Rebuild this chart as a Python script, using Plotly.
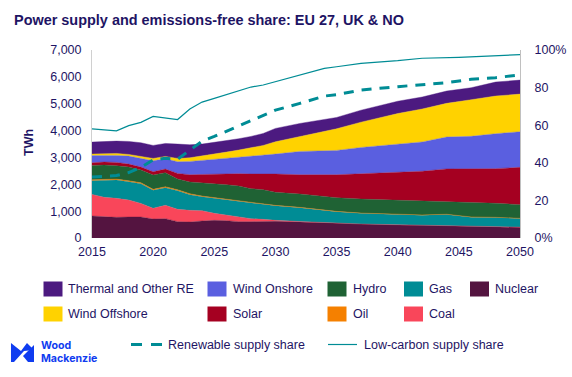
import plotly.graph_objects as go

years = [2015, 2016, 2017, 2018, 2019, 2020, 2021, 2022, 2023, 2024, 2025, 2026, 2027, 2028, 2029,
         2030, 2032, 2035, 2037, 2040, 2042, 2044, 2046, 2048, 2050]
nuclear = [818, 794, 769, 781, 781, 707, 719, 608, 595, 632, 657, 645, 608, 608, 620,
           620, 595, 546, 508, 484, 471, 459, 434, 422, 397]
coal = [806, 719, 707, 632, 508, 397, 496, 459, 434, 384, 260, 198, 174, 112, 74,
        37, 19, 12, 12, 10, 8, 8, 8, 8, 8]
gas = [508, 645, 682, 682, 732, 670, 657, 694, 583, 521, 558, 595, 583, 570, 558,
       546, 515, 422, 397, 384, 372, 409, 335, 335, 322]
oil = [37, 37, 37, 37, 37, 37, 37, 37, 37, 25, 25, 25, 25, 25, 25,
       12, 12, 12, 12, 10, 10, 8, 8, 6, 6]
hydro = [533, 521, 496, 508, 471, 533, 521, 397, 434, 496, 508, 521, 546, 521, 521,
         484, 496, 508, 521, 521, 496, 459, 533, 521, 508]
solar = [99, 112, 124, 112, 112, 124, 136, 211, 273, 310, 372, 422, 459, 546, 595,
         682, 719, 856, 942, 1042, 1128, 1228, 1252, 1290, 1389]
wind_onshore = [273, 260, 260, 298, 335, 409, 384, 434, 496, 521, 546, 570, 620, 657, 682,
                744, 868, 905, 980, 1042, 1091, 1190, 1215, 1302, 1327]
wind_offshore = [50, 62, 74, 62, 62, 87, 87, 124, 136, 161, 198, 223, 260, 310, 372,
                 459, 558, 806, 942, 1141, 1228, 1252, 1364, 1401, 1401]
thermal = [446, 446, 459, 484, 508, 484, 484, 533, 484, 446, 434, 434, 422, 434, 446,
           496, 484, 422, 446, 459, 446, 459, 446, 521, 521]

low_years = [2015, 2017, 2018, 2019, 2020, 2021, 2022, 2023, 2024, 2025, 2026, 2027, 2028, 2029,
             2030, 2032, 2034, 2035, 2037, 2040, 2042, 2045, 2048, 2050]
low_carbon = [58.0, 57.0, 59.8, 61.5, 64.7, 63.8, 63.0, 68.6, 72.3, 74.3, 76.2, 78.4, 80.3, 81.4,
              83.2, 86.7, 90.2, 91.1, 92.9, 94.3, 95.6, 96.1, 97.0, 97.5]
ren_years = [2015, 2017, 2018, 2019, 2020, 2021, 2022, 2023, 2024, 2025, 2027, 2028, 2029,
             2030, 2032, 2034, 2035, 2037, 2040, 2042, 2044, 2046, 2048, 2050]
renewable = [32.4, 33.2, 34.8, 37.6, 41.5, 42.4, 41.9, 46.8, 51.5, 54.0, 59.6, 62.8, 65.4,
             68.0, 71.6, 75.5, 76.2, 78.7, 80.5, 81.4, 82.6, 84.4, 85.3, 86.7]

stack = [("Nuclear", nuclear, "#541440"), ("Coal", coal, "#F9465A"), ("Gas", gas, "#008C95"),
         ("Oil", oil, "#F58000"), ("Hydro", hydro, "#1F6234"), ("Solar", solar, "#A50021"),
         ("Wind Onshore", wind_onshore, "#5A5FE0"), ("Wind Offshore", wind_offshore, "#FFD200"),
         ("Thermal and Other RE", thermal, "#4C1A80")]
legend_rows = [["Thermal and Other RE", "Wind Onshore", "Hydro", "Gas", "Nuclear"],
               ["Wind Offshore", "Solar", "Oil", "Coal"]]
legend_swatch_x = [43.5, 207.5, 327.5, 404, 470]
legend_text_x = [67, 231.5, 351.5, 427.5, 494]
legend_row_y = [289, 314]
colors = {n: c for n, _, c in stack}
NAVY = "#1E1464"
TEAL = "#008C95"
BLUE = "#0F3CF0"
W, H = 572, 377
L, R, T, B = 92, 520, 50, 238
FONT = "Liberation Sans"

def px(x): return (x - L) / (R - L)
def py(y): return (B - y) / (B - T)

fig = go.Figure()
for name, vals, col in stack:
    fig.add_trace(go.Scatter(x=years, y=vals, name=name, stackgroup="one", mode="lines",
                             line=dict(width=0.4, color=col), fillcolor=col, showlegend=False))
fig.add_trace(go.Scatter(x=ren_years, y=renewable, name="Renewable supply share", yaxis="y2", mode="lines",
                         line=dict(color=TEAL, width=3, dash="10px,8px"), showlegend=False))
fig.add_trace(go.Scatter(x=low_years, y=low_carbon, name="Low-carbon supply share", yaxis="y2", mode="lines",
                         line=dict(color=TEAL, width=1.2), showlegend=False))

shapes, ann = [], []
def text(x, y, s, size=12.5, color=NAVY, family=FONT, **kw):
    ann.append(dict(xref="paper", yref="paper", x=px(x), y=py(y), text=s, showarrow=False, xanchor=kw.pop("xanchor", "left"),
                    yanchor="middle", borderpad=0, font=dict(family=family, size=size, color=color), **kw))

for r, row in enumerate(legend_rows):
    for c, name in enumerate(row):
        yc = legend_row_y[r]
        shapes.append(dict(type="rect", xref="paper", yref="paper", x0=px(legend_swatch_x[c]), x1=px(legend_swatch_x[c] + 19),
                           y0=py(yc - 7.5), y1=py(yc + 7.5), fillcolor=colors[name], line=dict(width=0)))
        text(legend_text_x[c], yc, name)

ly = 344.5
for a, b in [(131, 142), (151, 162)]:
    shapes.append(dict(type="line", xref="paper", yref="paper", x0=px(a), x1=px(b), y0=py(ly), y1=py(ly), line=dict(color=TEAL, width=3)))
shapes.append(dict(type="line", xref="paper", yref="paper", x0=px(328), x1=px(357), y0=py(ly), y1=py(ly), line=dict(color=TEAL, width=1.2)))
text(167, ly, "Renewable supply share")
text(362.5, ly, "Low-carbon supply share")

text(13, 19.5, "<b>Power supply and emissions-free share: EU 27, UK &amp; NO</b>", size=14.45)
text(29, 143, "<b>TWh</b>", size=12.5, textangle=-90, xanchor="center")
text(40, 345.5, "<b>Wood</b>", size=10.6, color=BLUE, family="Inter")
text(40, 358.5, "<b>Mackenzie</b>", size=10.6, color=BLUE, family="Inter")
logo_parts = [[(11, 343), (21, 351), (27, 343), (34, 350), (24, 351), (14, 362), (11, 362)],
              [(34, 345), (34, 362), (28, 362), (23, 356)]]
for part in logo_parts:
    path = "M " + " L ".join(f"{px(x):.4f},{py(y):.4f}" for x, y in part) + " Z"
    shapes.append(dict(type="path", xref="paper", yref="paper", path=path, fillcolor=BLUE, line=dict(width=0)))

fig.update_layout(
    width=W, height=H, autosize=False, paper_bgcolor="white", plot_bgcolor="white",
    margin=dict(l=L, r=W - R, t=T, b=H - B, pad=0, autoexpand=False), showlegend=False,
    font=dict(family=FONT, size=12.5, color=NAVY), shapes=shapes, annotations=ann,
    xaxis=dict(range=[2015, 2050], tickvals=list(range(2015, 2051, 5)), showgrid=False, zeroline=False,
               showline=False, ticks="", ticklabelstandoff=4, automargin=False, tickfont=dict(size=12.5, color=NAVY)),
    yaxis=dict(range=[0, 7000], tickvals=list(range(0, 7001, 1000)), tickformat=",d", showgrid=False, zeroline=False,
               showline=True, linecolor="#D0D0D0", linewidth=1, ticks="", ticklabelstandoff=7, automargin=False,
               tickfont=dict(size=12.5, color=NAVY)),
    yaxis2=dict(range=[0, 100], overlaying="y", side="right", tickvals=[0, 20, 40, 60, 80, 100],
                ticktext=["0%", "20", "40", "60", "80", "100%"], showgrid=False, zeroline=False,
                showline=True, linecolor="#C0C0C0", linewidth=1, ticks="", ticklabelstandoff=11, automargin=False,
                tickfont=dict(size=12.5, color=NAVY)),
)
fig.write_html("out.html", config=dict(displayModeBar=False),
               post_script="document.body.style.margin='0';window.dispatchEvent(new Event('resize'));")
